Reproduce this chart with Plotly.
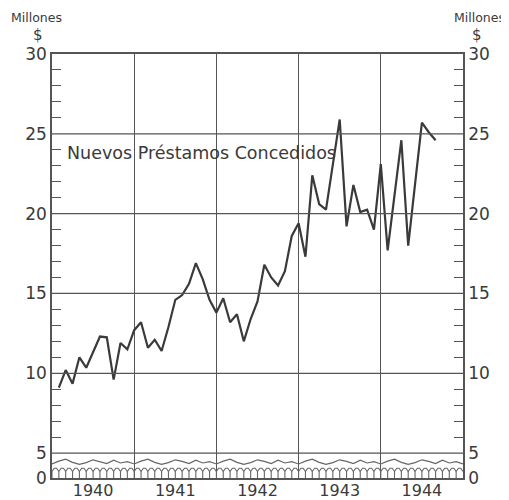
import plotly.graph_objects as go

# ---- data (millions of $), monthly, Jan 1940 .. Aug 1944 ----
years = [1940, 1941, 1942, 1943, 1944]
prestamos_1940 = [9.1, 10.2, 9.35, 11.0, 10.35, 11.3, 12.3, 12.25, 9.6, 11.9, 11.5, 12.7]
prestamos_1941 = [13.2, 11.6, 12.1, 11.4, 12.9, 14.6, 14.9, 15.6, 16.9, 15.9, 14.6, 13.8]
prestamos_1942 = [14.7, 13.2, 13.7, 12.0, 13.4, 14.5, 16.8, 16.0, 15.5, 16.4, 18.6, 19.4]
prestamos_1943 = [17.3, 22.4, 20.6, 20.25, 23.0, 25.9, 19.2, 21.8, 20.1, 20.25, 19.0, 23.1]
prestamos_1944 = [17.7, 21.1, 24.6, 18.0, 21.9, 25.7, 25.1, 24.6]
series_label = "Nuevos Préstamos Concedidos"
year_labels = ["1940", "1941", "1942", "1943", "1944"]
y_tick_labels = ["0", "5", "10", "15", "20", "25", "30"]

# ---- build x/y ----
all_years = [prestamos_1940, prestamos_1941, prestamos_1942, prestamos_1943, prestamos_1944]
xs, ys = [], []
for yr, vals in zip(years, all_years):
    for m, v in enumerate(vals, start=1):
        xs.append(yr + m / 12.0)
        ys.append(v)

ZERO_POS = 3.44  # broken axis: where "0" sits
INK = "#3a3a3a"
GRID = "#555555"
FONT = "DejaVu Sans"
OFF = 8  # page body margin in the browser

fig = go.Figure()

# broken-axis band decoration (between 0 and 5)
wave_pattern = [4.32, 4.50, 4.62, 4.42, 4.30, 4.40, 4.58, 4.48, 4.34, 4.55, 4.38, 4.46]
wx, wy = [], []
n = 0
t = 1940.0
while t <= 1945.0001:
    wx.append(t)
    wy.append(wave_pattern[n % len(wave_pattern)])
    n += 1
    t += 1 / 12.0
fig.add_trace(go.Scatter(x=wx, y=wy, mode="lines", line=dict(color="#666", width=1.2),
                         hoverinfo="skip", showlegend=False))
lx, ly = [], []
for k in range(60):
    a = 1940 + k / 12.0
    lx += [a, a, a + 1 / 36.0, a + 2 / 36.0, a + 1 / 12.0, None]
    ly += [ZERO_POS, 3.85, 4.05, 4.05, 3.85, None]
fig.add_trace(go.Scatter(x=lx, y=ly, mode="lines", line=dict(color="#666", width=1.1),
                         hoverinfo="skip", showlegend=False))

# main series
fig.add_trace(go.Scatter(x=xs, y=ys, mode="lines", line=dict(color=INK, width=2.2),
                         showlegend=False))
# invisible trace on right axis
fig.add_trace(go.Scatter(x=[1940], y=[10], yaxis="y2", mode="markers",
                         marker=dict(opacity=0), showlegend=False, hoverinfo="skip"))

tickvals_y = [ZERO_POS, 5, 10, 15, 20, 25, 30]
minor_vals = [v for v in range(6, 30) if v % 5 != 0]

yax = dict(range=[ZERO_POS, 30], tickmode="array", tickvals=tickvals_y, ticktext=y_tick_labels,
           showgrid=False, zeroline=False, showline=True, linecolor=GRID, linewidth=1.5,
           ticks="", automargin=False, tickfont=dict(family=FONT, size=17, color=INK),
           minor=dict(tickmode="array", tickvals=minor_vals, ticks="inside", ticklen=9,
                      tickcolor=GRID, tickwidth=1.3, showgrid=False))

fig.update_layout(
    width=509 - OFF, height=500 - OFF,
    margin=dict(l=52 - OFF, r=46, t=54 - OFF, b=22, autoexpand=False),
    paper_bgcolor="white", plot_bgcolor="white",
    xaxis=dict(range=[1940, 1945], tickmode="array",
               tickvals=[y + 0.5 for y in years], ticktext=year_labels,
               showgrid=False, zeroline=False, showline=True, mirror=True,
               linecolor=GRID, linewidth=1.5, ticks="", automargin=False,
               ticklabelstandoff=-3,
               tickfont=dict(family=FONT, size=16, color=INK),
               minor=dict(tickmode="array", tickvals=[1941, 1942, 1943, 1944],
                          showgrid=True, gridcolor=GRID, gridwidth=1.2, ticks="")),
    yaxis=yax,
    yaxis2=dict(yax, overlaying="y", side="right", matches="y", anchor="x"),
    shapes=[dict(type="line", xref="paper", x0=0, x1=1, yref="y", y0=v, y1=v,
                 line=dict(color=GRID, width=1.2)) for v in [5, 10, 15, 20, 25]],
)

fig.add_annotation(x=1940.16, y=23.8, xref="x", yref="y", text=series_label, showarrow=False,
                   xanchor="left", yanchor="middle", font=dict(family=FONT, size=17.5, color=INK))

PW, PH = 411.0, 424.0
def px(xpix):
    return (xpix - 52) / PW
def py(ypix):
    return (478 - ypix) / PH

fig.add_annotation(x=px(9), y=py(18), xref="paper", yref="paper", text="Millones",
                   showarrow=False, font=dict(family=FONT, size=12.5, color=INK),
                   xanchor="left", yanchor="middle")
fig.add_annotation(x=px(38), y=py(35), xref="paper", yref="paper", text="$",
                   showarrow=False, font=dict(family=FONT, size=15, color=INK),
                   xanchor="center", yanchor="middle")
fig.add_annotation(x=px(507), y=py(18), xref="paper", yref="paper", text="Millones",
                   showarrow=False, font=dict(family=FONT, size=12.5, color=INK),
                   xanchor="right", yanchor="middle")
fig.add_annotation(x=px(477), y=py(35), xref="paper", yref="paper", text="$",
                   showarrow=False, font=dict(family=FONT, size=15, color=INK),
                   xanchor="center", yanchor="middle")

fig.write_html("out.html")
